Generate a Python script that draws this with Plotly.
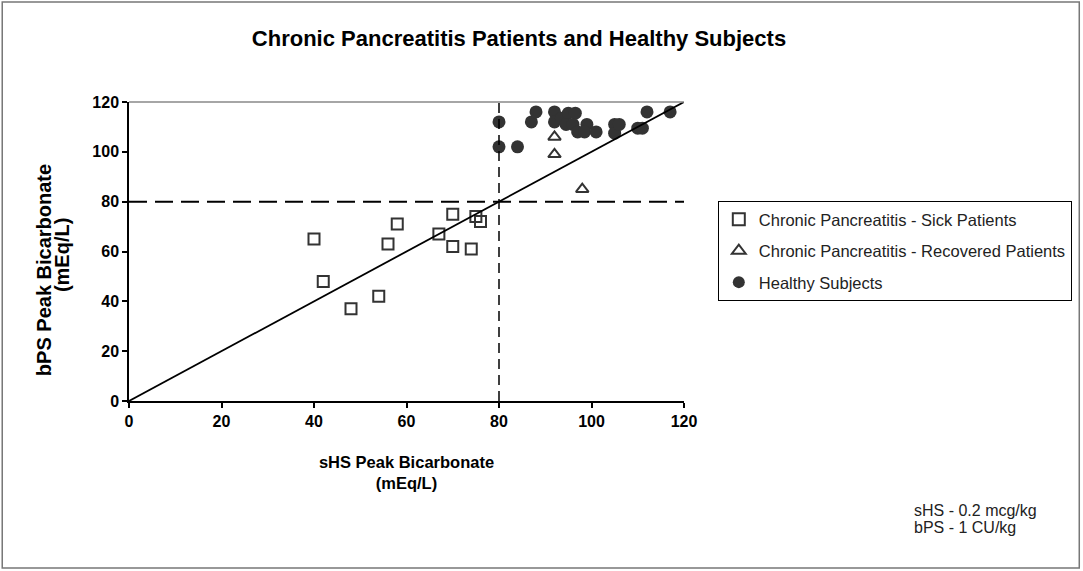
import plotly.graph_objects as go

# ---- data ----
sick_x = [40, 42, 48, 54, 56, 58, 67, 70, 70, 74, 75, 76]
sick_y = [65, 48, 37, 42, 63, 71, 67, 75, 62, 61, 74, 72]

recovered_x = [92, 92, 98]
recovered_y = [106, 99, 85]

healthy_x = [80, 80, 84, 87, 88, 92, 92, 93.5, 95, 96.5, 94.5, 96, 97, 99, 98.5,
             101, 105, 105, 106, 110, 111, 112, 117]
healthy_y = [112, 102, 102, 112, 116, 116, 112, 113.5, 115.5, 115.5, 111, 111, 108, 111, 108,
             108, 111, 107.5, 111, 109.5, 109.5, 116, 116]

identity_x = [0, 120]
identity_y = [0, 120]
cutoff = 80
axis_max = 120
tick_vals = [0, 20, 40, 60, 80, 100, 120]

FONT = "Liberation Sans, Arial, sans-serif"

fig = go.Figure()

fig.add_trace(go.Scatter(
    x=sick_x, y=sick_y, mode="markers", name="Chronic Pancreatitis - Sick Patients",
    legendgroup="a",
    marker=dict(symbol="square-open", size=11, color="#333333", line=dict(width=2, color="#333333"))))
fig.add_trace(go.Scatter(
    x=recovered_x, y=recovered_y, mode="markers", name="Chronic Pancreatitis - Recovered Patients",
    legendgroup="b",
    marker=dict(symbol="triangle-up-open", size=11, color="#333333", line=dict(width=2, color="#333333"))))
fig.add_trace(go.Scatter(
    x=healthy_x, y=healthy_y, mode="markers", name="Healthy Subjects",
    legendgroup="c",
    marker=dict(symbol="circle", size=13, color="#333333", line=dict(width=0))))

# identity line
fig.add_trace(go.Scatter(x=identity_x, y=identity_y, mode="lines", showlegend=False,
                         line=dict(color="black", width=1.8), hoverinfo="skip"))
# cutoff lines
fig.add_trace(go.Scatter(x=[0, axis_max], y=[cutoff, cutoff], mode="lines", showlegend=False,
                         line=dict(color="black", width=2, dash="18px,8px"), hoverinfo="skip"))
fig.add_trace(go.Scatter(x=[cutoff, cutoff], y=[0, axis_max], mode="lines", showlegend=False,
                         line=dict(color="black", width=1.5, dash="10px,6px"), hoverinfo="skip"))

# top border of plot area
fig.add_shape(type="line", xref="paper", yref="paper", x0=0, x1=1, y0=1, y1=1,
              line=dict(color="#888888", width=1.5))
# outer frame
fig.add_shape(type="rect", xref="paper", yref="paper",
              x0=-0.2284, x1=1.7122, y0=-0.5585, y1=1.3344,
              line=dict(color="#777777", width=1.5))

# y-axis title (two lines, rotated)
fig.add_annotation(text="<b>bPS Peak Bicarbonate</b>", xref="paper", yref="paper",
                   x=(44 - 129) / 556, y=(401 - 270) / 299, textangle=-90,
                   xanchor="center", yanchor="middle", showarrow=False,
                   font=dict(family=FONT, size=20, color="black"))
fig.add_annotation(text="<b>(mEq/L)</b>", xref="paper", yref="paper",
                   x=(62 - 129) / 556, y=(401 - 255) / 299, textangle=-90,
                   xanchor="center", yanchor="middle", showarrow=False,
                   font=dict(family=FONT, size=20, color="black"))

# dosage note
fig.add_annotation(text="sHS - 0.2 mcg/kg", xref="paper", yref="paper",
                   x=(913 - 129) / 556, y=(401 - 510) / 299, xanchor="left", yanchor="middle",
                   showarrow=False, font=dict(family=FONT, size=16, color="#222222"))
fig.add_annotation(text="bPS - 1 CU/kg", xref="paper", yref="paper",
                   x=(913 - 129) / 556, y=(401 - 527) / 299, xanchor="left", yanchor="middle",
                   showarrow=False, font=dict(family=FONT, size=16, color="#222222"))

fig.update_layout(
    width=1083, height=571,
    margin=dict(l=129, r=398, t=102, b=170),
    paper_bgcolor="white", plot_bgcolor="white",
    font=dict(family=FONT, color="black"),
    title=dict(text="<b>Chronic Pancreatitis Patients and Healthy Subjects</b>",
               x=519 / 1083, xanchor="center", y=1 - 38 / 571, yanchor="middle",
               font=dict(size=22, family=FONT, color="black")),
    legend=dict(x=1.059, y=(401 - 201) / 299, xanchor="left", yanchor="top",
                bordercolor="black", borderwidth=1, bgcolor="white",
                font=dict(size=16.5, family=FONT, color="#222222"),
                tracegroupgap=7, itemsizing="constant", itemwidth=30),
    showlegend=True,
)

fig.update_xaxes(range=[0, axis_max], tickvals=tick_vals, showgrid=False, zeroline=False,
                 showline=True, linecolor="black", linewidth=1.5,
                 ticks="outside", ticklen=5, tickcolor="black", tickwidth=1.5,
                 tickfont=dict(size=16, family=FONT, color="black", weight="bold"),
                 title=dict(text="<b>sHS Peak Bicarbonate<br>(mEq/L)</b>", standoff=27,
                            font=dict(size=16.5, family=FONT, color="black")))
fig.update_yaxes(range=[0, axis_max], tickvals=tick_vals, showgrid=False, zeroline=False,
                 showline=True, linecolor="black", linewidth=1.5,
                 ticks="outside", ticklen=5, tickcolor="black", tickwidth=1.5,
                 tickfont=dict(size=16, family=FONT, color="black", weight="bold"))

fig.write_html("out.html", config={"displayModeBar": False},
               post_script="document.body.style.margin='0';document.body.style.overflow='hidden';")
